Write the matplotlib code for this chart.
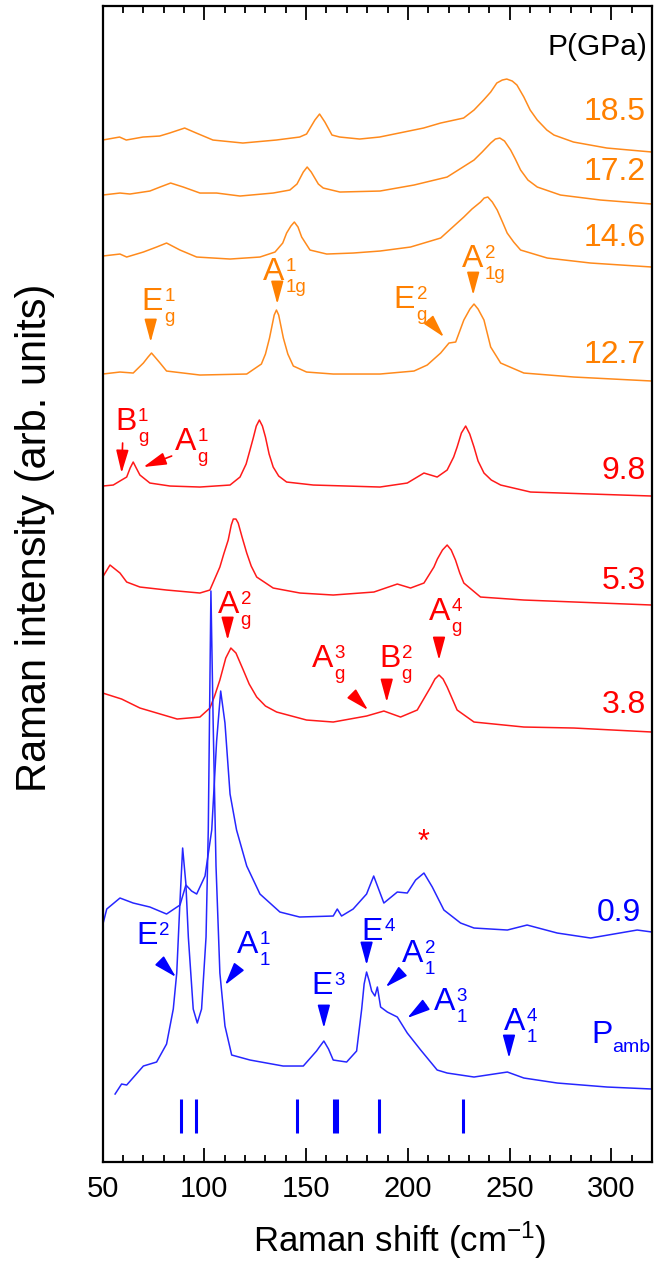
import numpy as np
import matplotlib
matplotlib.use('Agg')
import matplotlib.pyplot as plt
from matplotlib.ticker import MultipleLocator

plt.rcParams['font.family'] = ['Liberation Sans', 'DejaVu Sans']
plt.rcParams['mathtext.fontset'] = 'custom'
plt.rcParams['mathtext.rm'] = 'Liberation Sans'
plt.rcParams['mathtext.it'] = 'Liberation Sans:italic'

# DATOS: espectros Raman leidos de la figura
# x en cm-1, intensidad sobre la linea base de cada espectro (u. arb.)
x_185 = [50, 58.3, 61.6, 69.8, 78, 82.9, 90.3, 96, 104.2, 118.9, 135.3, 146.8, 150.2, 154.3, 156.6,
         159.2, 162.7, 166.5, 176.3, 186.1, 207.7, 216.1, 227.4, 232.5, 237.2, 240.7, 243.7, 246.4,
         248.6, 251.3, 253.6, 257, 260.1, 263.6, 268.3, 271.8, 281.4, 297.8, 320]
i_185 = [1.2, 1.5, 1.2, 1.5, 1.6, 1.9, 2.4, 1.9, 1.2, 0.9, 1.2, 1.5, 1.8, 3.2, 3.8,
         3.0, 1.7, 1.5, 1.3, 1.5, 2.4, 2.9, 3.4, 4.2, 5.2, 6.0, 6.9, 7.2,
         7.3, 7.1, 6.7, 5.5, 4.2, 3.2, 2.2, 1.7, 1.0, 0.4, 0.0]

x_172 = [50, 58.5, 63.4, 73.2, 78.2, 83.4, 89.6, 97.8, 106, 117.5, 133.8, 142, 145.5, 148.6, 150.5,
         152.5, 156, 158.4, 166.6, 186.3, 203, 219.3, 232.5, 236.5, 240.7, 243, 245.2, 247.5, 250.5,
         252.8, 255.4, 259, 263.6, 275, 294.7, 320]
i_172 = [0.9, 1.1, 1.0, 1.3, 1.7, 2.1, 1.7, 1.1, 1.1, 0.8, 1.1, 1.4, 2.0, 3.2, 3.7,
         3.2, 2.0, 1.6, 1.2, 1.3, 1.9, 2.7, 4.4, 5.2, 6.1, 6.5, 6.6, 6.3, 5.4,
         4.5, 3.4, 2.4, 1.7, 0.9, 0.4, 0.0]

x_146 = [50, 58.5, 61.8, 70, 76.5, 81.4, 88, 96.2, 112.6, 127.3, 134.7, 138.5, 140.4, 142.5, 144.2,
         146, 147.8, 150, 151.9, 160.1, 173.1, 186.3, 201.3, 216.1, 227.5, 231.5, 235.7, 237.5,
         239.3, 241.5, 243.9, 246.5, 248.8, 252, 255.4, 268.5, 289.8, 320]
i_146 = [1.1, 1.3, 1.0, 1.5, 2.0, 2.4, 1.7, 1.0, 0.8, 1.0, 1.5, 2.4, 3.4, 4.1, 4.5,
         4.0, 3.0, 2.3, 1.7, 1.3, 1.4, 1.6, 2.0, 2.9, 5.0, 5.8, 6.5, 6.9,
         7.0, 6.5, 5.7, 4.5, 3.4, 2.5, 1.7, 0.9, 0.4, 0.0]

x_127 = [50, 58.5, 65, 70, 72.3, 74, 75.7, 78.2, 81.4, 97.8, 120.8, 128, 130, 132, 134.3, 135.4,
         136.5, 138.8, 141, 143.7, 150.2, 163.3, 186.3, 203, 209.5, 216.1, 220.2, 223.5, 227.5,
         230.5, 232.5, 234.5, 237.4, 240.7, 245.6, 257, 281.6, 320]
i_127 = [0.7, 0.9, 0.8, 1.8, 2.4, 2.8, 2.4, 1.8, 1.0, 0.6, 0.7, 1.7, 2.7, 4.3, 6.6, 7.1,
         6.6, 4.3, 2.7, 1.5, 0.9, 0.7, 0.7, 1.0, 1.6, 2.8, 3.8, 3.9, 6.1,
         7.2, 7.7, 7.2, 6.1, 3.4, 1.8, 0.8, 0.4, 0.0]

x_98 = [50, 55.2, 59.3, 61.8, 63.5, 65, 66.5, 68.3, 73.2, 83.1, 97.8, 112.6, 117.5, 120.5, 122.4,
        124, 125.5, 127, 128.5, 130, 131.8, 133.8, 136.5, 140.4, 153.5, 186.3, 199.7, 207.9, 214.4,
        219.3, 222.5, 224.2, 226.3, 228.4, 230.4, 232.5, 234.5, 237.4, 241, 245.6, 260.3, 320]
i_98 = [1.0, 1.1, 1.6, 1.9, 2.8, 3.4, 2.8, 2.1, 1.3, 1.0, 0.9, 1.1, 1.9, 3.2, 4.6,
        5.8, 7.0, 7.6, 7.0, 5.9, 4.2, 2.9, 2.0, 1.4, 1.1, 0.9, 1.3, 2.3, 1.9,
        2.6, 3.9, 4.9, 6.3, 7.0, 6.2, 4.9, 3.5, 2.3, 1.6, 1.1, 0.4, 0.0]

x_53 = [50, 53.6, 58.5, 61.8, 68.3, 81.4, 97.8, 102.7, 107.6, 109.5, 111.7, 113.2, 114.2, 115.5,
        116.6, 118.5, 120.8, 123, 125.7, 133.8, 147, 163.3, 183.3, 194.8, 201.3, 207.9, 212.8,
        214.5, 217, 219.3, 221.3, 223.4, 225.5, 227.5, 235.7, 257, 320]
i_53 = [2.8, 4.0, 3.2, 2.3, 1.8, 1.5, 1.2, 1.5, 3.8, 5.1, 6.5, 8.0, 8.6, 8.6,
        8.2, 6.8, 5.2, 3.9, 2.8, 1.7, 1.2, 1.0, 1.3, 2.1, 1.7, 2.2, 3.8,
        4.6, 5.5, 6.0, 5.5, 4.5, 3.2, 2.2, 0.8, 0.5, 0.0]

x_38 = [50, 59.3, 68.3, 86.6, 97.8, 102.7, 105, 107.6, 110.5, 113, 115.5, 119.1, 122, 125.7, 130,
        135.5, 150.2, 163.3, 179.7, 188.2, 196.4, 204.6, 211.2, 213.3, 215.3, 217.3, 219.3, 224.2,
        232.5, 257, 281.6, 320]
i_38 = [3.9, 3.3, 2.4, 1.3, 1.5, 2.4, 3.6, 5.2, 7.4, 8.4, 7.9, 6.2, 4.8, 3.5, 2.6,
        2.0, 1.2, 1.0, 1.6, 2.1, 1.5, 2.2, 4.5, 5.3, 5.7, 5.3, 4.5, 2.2,
        1.0, 0.5, 0.4, 0.0]

x_09 = [50, 52, 58.5, 65, 73.2, 81.4, 88, 90.9, 93.7, 96.2, 100.3, 103.6, 106, 108, 110.1, 112.6,
        115.8, 120.8, 127.3, 137.1, 146.8, 163.3, 165.3, 167.4, 173.1, 179.7, 183.2, 188.2, 194.8,
        199.7, 203.8, 207.9, 212, 217.7, 225.9, 232.5, 248.9, 258.6, 273.4, 289.8, 312.7, 320]
i_09 = [0.7, 2.3, 3.4, 2.9, 2.5, 1.8, 2.7, 4.7, 4.1, 3.8, 5.6, 10.2, 19.1, 24.1, 20.9, 13.8,
        10.2, 6.6, 3.8, 2.0, 1.5, 1.6, 2.3, 1.6, 2.3, 3.8, 5.6, 2.9, 4.0,
        3.9, 5.2, 5.9, 4.5, 2.2, 0.9, 0.4, 0.2, 0.7, -0.1, -0.6, 0.2, 0.0]

x_amb = [56.1, 59.3, 61.8, 70, 76.5, 81.4, 84.7, 86.4, 88, 89.3, 90.9, 92.1, 94.5, 96.5, 98.6,
         100.8, 101.9, 103.2, 104.3, 105.7, 107.6, 110.1, 113.4, 122.4, 138.7, 148.6, 155.1, 156.5,
         158.7, 161, 163.3, 169.9, 174.8, 177.3, 178.5, 179.7, 181, 182.2, 183.8, 185, 186.6, 189.9,
         194.8, 199.7, 206.3, 214.4, 219.3, 232.5, 248.9, 257, 273.4, 297.9, 320]
i_amb = [-0.5, 0.5, 0.4, 2.3, 2.7, 4.5, 8.0, 11.6, 18.8, 24.1, 20.5, 15.2, 8.0, 6.6, 8.0,
         15.2, 25.9, 49.8, 36.6, 22.3, 11.6, 6.3, 3.4, 2.9, 2.3, 2.3, 3.8, 4.2,
         4.8, 4.0, 2.9, 2.7, 3.8, 8.0, 10.5, 11.7, 10.8, 9.8, 9.3, 10.2, 8.2, 7.7,
         7.2, 5.6, 3.9, 1.9, 1.6, 1.2, 1.7, 1.1, 0.6, 0.2, 0.0]

# desplazamiento vertical de cada espectro
offsets = [101.0, 95.8, 89.5, 78.1, 66.6, 55.7, 43.0, 23.0, 7.3]
presiones = ['18.5', '17.2', '14.6', '12.7', '9.8', '5.3', '3.8', '0.9']
# modos calculados (barras al pie)
modos_calc = [88.4, 96.1, 145.7, 163.8, 165.2, 186.0, 227.0]

naranja = '#FF8A1C'
rojo = '#FF1A1A'
azul = '#2626FF'

espectros = [(x_185, i_185, naranja), (x_172, i_172, naranja), (x_146, i_146, naranja),
             (x_127, i_127, naranja), (x_98, i_98, rojo), (x_53, i_53, rojo),
             (x_38, i_38, rojo), (x_09, i_09, azul), (x_amb, i_amb, azul)]
colores_txt = ['#FF8000'] * 4 + ['#FF0000'] * 3 + ['#0000FF']
y_etiq = [105.0, 99.0, 92.4, 80.7, 69.1, 58.1, 45.7, 24.9]

# GRAFICA
fig = plt.figure(figsize=(6.54, 12.84), dpi=100)
ax = fig.add_axes([0.157, 0.095, 0.840, 0.9003])

for (xs, ys, c), off in zip(espectros, offsets):
    ax.plot(xs, np.array(ys) + off, color=c, lw=1.1)

ax.vlines(modos_calc, 2.9, 6.3, color='#0000FF', lw=2.2)

# presiones
ax.text(317.5, 111.5, 'P(GPa)', fontsize=21.5, ha='right', va='center', color='k')
for p, yl, c in zip(presiones, y_etiq, colores_txt):
    xr = 314.6 if p == '0.9' else 317.0
    ax.text(xr, yl, p, fontsize=23, ha='right', va='center', color=c)


def modo(x, y, base, sup, sub, color):
    ax.text(x, y, base, color=color, fontsize=23, ha='left', va='baseline')
    dx = 0.667 * 23 + 1
    if sup:
        ax.annotate(sup, (x, y), xytext=(dx, 6.8), textcoords='offset points',
                    color=color, fontsize=13.5, ha='left', va='baseline')
    if sub:
        ax.annotate(sub, (x, y), xytext=(dx, -8.8), textcoords='offset points',
                    color=color, fontsize=13.5, ha='left', va='baseline')


def flecha(punta, cola, color):
    ax.annotate('', xy=punta, xytext=cola,
                arrowprops=dict(arrowstyle='-|>,head_length=1.4,head_width=0.38',
                                color=color, lw=1.2, shrinkA=0, shrinkB=0,
                                mutation_scale=10))


# etiquetas de modos: (base, sup, sub, x, y, color, punta, cola)
etiquetas = [
    ('E', '1', 'g', 69.2, 85.2, '#FF8000', (73.6, 82.0), (73.6, 84.1)),
    ('A', '1', '1g', 128.8, 88.2, '#FF8000', (135.8, 85.8), (135.8, 87.9)),
    ('E', '2', 'g', 193.1, 85.4, '#FF8000', (217.7, 82.5), (210.3, 84.2)),
    ('A', '2', '1g', 226.6, 89.5, '#FF8000', (232.1, 86.7), (232.1, 88.6)),
    ('B', '1', 'g', 56.1, 73.2, '#FF0000', (59.3, 68.9), (59.8, 71.9)),
    ('A', '1', 'g', 85.5, 71.2, '#FF0000', (70.0, 69.5), (83.9, 70.6)),
    ('A', '2', 'g', 106.7, 54.9, '#FF0000', (111.4, 52.2), (111.4, 54.1)),
    ('A', '3', 'g', 152.7, 49.5, '#FF0000', (180.4, 45.2), (173.0, 46.7)),
    ('B', '2', 'g', 185.8, 49.5, '#FF0000', (189.6, 46.0), (189.6, 47.9)),
    ('A', '4', 'g', 210.3, 54.2, '#FF0000', (215.3, 50.2), (215.3, 52.2)),
    ('E', '2', '', 66.7, 21.8, '#0000FF', (86.0, 18.5), (78.6, 20.0)),
    ('A', '1', '1', 115.8, 20.9, '#0000FF', (110.1, 17.7), (116.5, 19.4)),
    ('E', '3', '', 152.7, 16.8, '#0000FF', (158.7, 13.4), (158.7, 15.3)),
    ('E', '4', '', 177.3, 22.2, '#0000FF', (179.7, 19.7), (179.7, 21.7)),
    ('A', '2', '1', 197.1, 20.0, '#0000FF', (189.1, 17.5), (197.1, 19.0)),
    ('A', '3', '1', 212.8, 15.2, '#0000FF', (199.7, 14.4), (208.7, 15.7)),
    ('A', '4', '1', 247.2, 13.2, '#0000FF', (249.7, 10.4), (249.7, 12.4)),
]
for base, sup, sub, x, y, c, punta, cola in etiquetas:
    modo(x, y, base, sup, sub, c)
    flecha(punta, cola, c)

# P_amb
ax.text(290.0, 11.9, 'P', fontsize=23, ha='left', va='baseline', color='#0000FF')
ax.annotate('amb', (290.0, 11.9), xytext=(15.5, -6.5), textcoords='offset points',
            fontsize=14, color='#0000FF', ha='left', va='baseline')
# pico espurio
ax.text(207.9, 31.9, '*', fontsize=22, ha='center', va='center', color='#FF0000')

ax.set_xlim(50, 320)
ax.set_ylim(0, 115.6)
ax.set_yticks([])
ax.xaxis.set_major_locator(MultipleLocator(50))
ax.xaxis.set_minor_locator(MultipleLocator(10))
ax.tick_params(axis='x', which='both', direction='in', top=True, labelsize=21, width=1.3, pad=9)
ax.tick_params(axis='x', which='major', length=10)
ax.tick_params(axis='x', which='minor', length=5)
for s in ax.spines.values():
    s.set_linewidth(1.6)

ax.set_xlabel(r'Raman shift (cm$^{\mathregular{-1}}$)', fontsize=25)
ax.xaxis.set_label_coords(0.54, -0.050)
ax.set_ylabel('Raman intensity (arb. units)', fontsize=30)
ax.yaxis.set_label_coords(-0.086, 0.54)

fig.savefig('out.png', dpi=100)
